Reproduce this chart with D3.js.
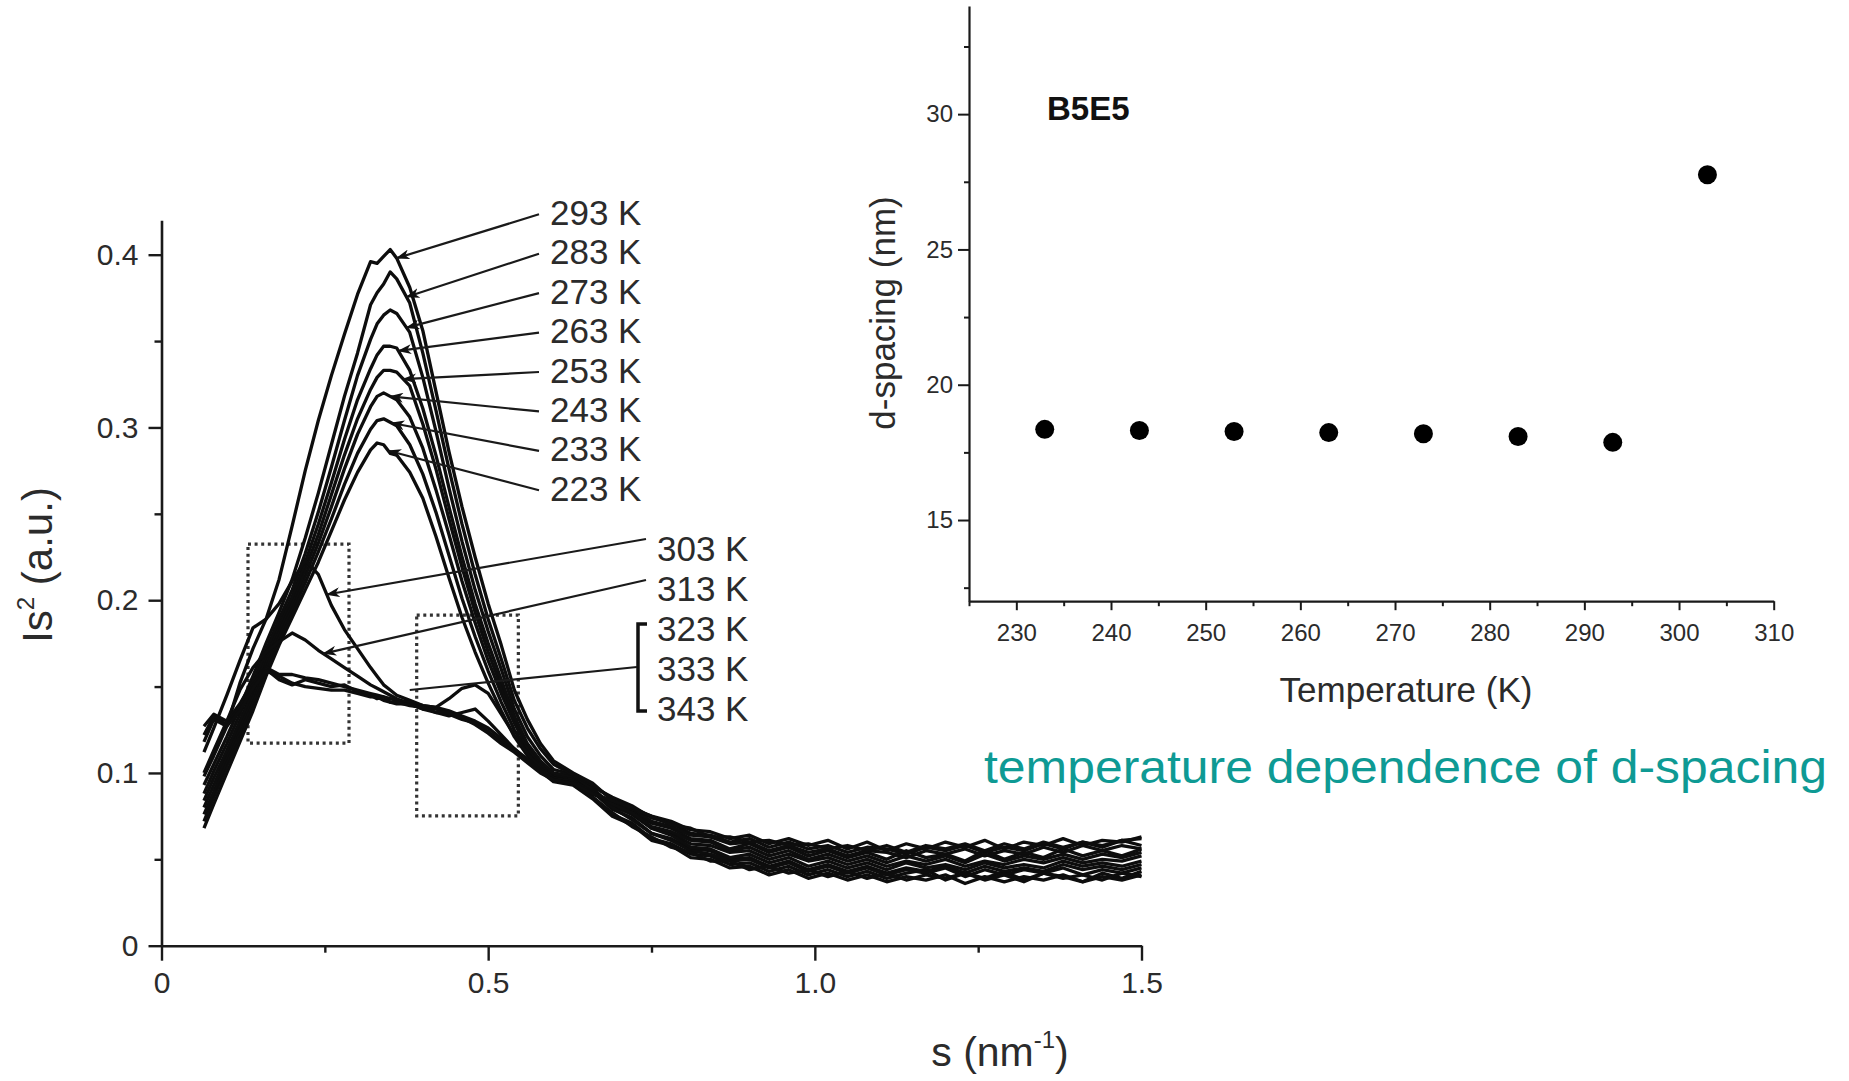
<!DOCTYPE html>
<html><head><meta charset="utf-8">
<script src="https://cdn.jsdelivr.net/npm/d3@7"></script>
<style>
html,body{margin:0;padding:0;background:#fff;}
svg{display:block;}
text{font-family:"Liberation Sans",Arial,Helvetica,sans-serif;}
</style></head><body>
<svg id="chart" width="1849" height="1081"></svg>
<script>
// Scattering vector s (nm^-1) shared by all intensity profiles
const sValues = [0.065,0.08,0.10,0.12,0.14,0.16,0.18,0.20,0.22,0.24,0.26,0.28,0.30,0.32,0.33,0.34,0.35,0.36,0.38,0.40,0.42,0.44,0.46,0.48,0.50,0.52,0.54,0.56,0.58,0.60,
  0.63,0.66,0.69,0.72,0.75,0.78,0.81,0.84,0.87,0.90,0.93,0.96,0.99,1.02,1.05,1.08,1.11,1.14,1.17,1.20,1.23,1.26,1.29,1.32,1.35,1.38,1.41,1.44,1.47,1.50];

const temperatures = [223,233,243,253,263,273,283,293,303,313,323,333,343];

// Lorentz-corrected intensity Is^2 (a.u.) for each temperature
const I223 = [0.068,0.082,0.100,0.118,0.136,0.156,0.174,0.190,0.206,0.222,0.240,0.258,0.274,0.287,0.291,0.290,0.285,0.284,0.274,0.259,0.237,0.213,0.190,0.170,0.152,0.136,0.121,0.110,0.102,0.096,
  0.094,0.086,0.076,0.071,0.062,0.059,0.053,0.052,0.047,0.048,0.043,0.046,0.041,0.044,0.040,0.043,0.039,0.042,0.044,0.038,0.042,0.039,0.043,0.038,0.042,0.040,0.037,0.042,0.039,0.043];
const I233 = [0.072,0.086,0.104,0.121,0.139,0.159,0.177,0.193,0.210,0.228,0.247,0.267,0.285,0.299,0.304,0.305,0.303,0.301,0.290,0.273,0.251,0.226,0.201,0.179,0.159,0.141,0.125,0.113,0.104,0.098,
  0.096,0.088,0.083,0.078,0.071,0.068,0.062,0.061,0.056,0.059,0.054,0.057,0.052,0.055,0.051,0.054,0.050,0.055,0.051,0.053,0.049,0.055,0.050,0.054,0.051,0.056,0.052,0.055,0.052,0.056];
const I243 = [0.076,0.089,0.107,0.124,0.142,0.162,0.180,0.196,0.214,0.233,0.254,0.276,0.296,0.312,0.318,0.320,0.318,0.316,0.306,0.288,0.264,0.238,0.211,0.187,0.165,0.146,0.129,0.115,0.106,0.099,
  0.097,0.089,0.079,0.074,0.065,0.062,0.056,0.055,0.050,0.051,0.046,0.049,0.044,0.047,0.043,0.046,0.042,0.045,0.043,0.046,0.042,0.046,0.043,0.045,0.043,0.047,0.044,0.046,0.044,0.047];
const I253 = [0.080,0.093,0.110,0.127,0.145,0.165,0.183,0.199,0.218,0.238,0.261,0.284,0.305,0.322,0.329,0.333,0.333,0.332,0.324,0.302,0.276,0.247,0.219,0.193,0.170,0.150,0.130,0.115,0.105,0.099,
  0.098,0.092,0.086,0.081,0.074,0.071,0.065,0.064,0.060,0.062,0.057,0.060,0.056,0.058,0.054,0.057,0.056,0.053,0.057,0.055,0.058,0.054,0.057,0.055,0.059,0.056,0.060,0.057,0.061,0.058];
const I263 = [0.084,0.097,0.113,0.130,0.148,0.168,0.186,0.202,0.222,0.244,0.268,0.293,0.316,0.334,0.342,0.347,0.347,0.346,0.333,0.311,0.284,0.254,0.225,0.198,0.175,0.154,0.133,0.117,0.107,0.100,
  0.098,0.091,0.081,0.076,0.068,0.065,0.059,0.058,0.054,0.055,0.050,0.053,0.049,0.051,0.047,0.050,0.046,0.049,0.047,0.050,0.046,0.049,0.047,0.050,0.048,0.051,0.048,0.050,0.049,0.052];
const I273 = [0.088,0.101,0.117,0.134,0.152,0.171,0.189,0.206,0.227,0.251,0.277,0.304,0.330,0.351,0.360,0.365,0.368,0.366,0.355,0.329,0.298,0.265,0.234,0.206,0.182,0.160,0.137,0.121,0.110,0.102,
  0.099,0.090,0.080,0.073,0.065,0.061,0.055,0.053,0.049,0.050,0.045,0.048,0.043,0.046,0.042,0.045,0.041,0.044,0.042,0.045,0.040,0.044,0.041,0.044,0.042,0.045,0.041,0.044,0.042,0.045];
const I283 = [0.093,0.105,0.121,0.138,0.156,0.175,0.193,0.212,0.236,0.262,0.290,0.318,0.343,0.371,0.378,0.383,0.390,0.386,0.372,0.343,0.310,0.276,0.244,0.215,0.189,0.166,0.142,0.126,0.114,0.105,
  0.099,0.093,0.085,0.080,0.072,0.069,0.064,0.063,0.059,0.060,0.055,0.058,0.054,0.056,0.052,0.055,0.054,0.051,0.055,0.053,0.056,0.052,0.055,0.053,0.057,0.054,0.058,0.055,0.058,0.056];
const I293 = [0.098,0.110,0.127,0.152,0.172,0.189,0.212,0.243,0.275,0.304,0.330,0.354,0.377,0.396,0.395,0.399,0.403,0.398,0.381,0.356,0.321,0.286,0.254,0.225,0.198,0.174,0.148,0.131,0.117,0.107,
  0.100,0.094,0.084,0.077,0.068,0.064,0.057,0.056,0.051,0.053,0.048,0.051,0.046,0.049,0.045,0.048,0.044,0.048,0.045,0.047,0.044,0.048,0.045,0.047,0.045,0.049,0.046,0.048,0.046,0.049];
const I303 = [0.112,0.126,0.145,0.165,0.184,0.189,0.198,0.211,0.223,0.215,0.197,0.183,0.172,0.161,0.156,0.151,0.148,0.145,0.142,0.139,0.138,0.143,0.149,0.151,0.146,0.134,0.122,0.111,0.103,0.097,
  0.094,0.088,0.083,0.079,0.075,0.072,0.067,0.066,0.062,0.064,0.059,0.062,0.058,0.061,0.056,0.060,0.055,0.059,0.056,0.060,0.057,0.061,0.056,0.060,0.058,0.062,0.058,0.061,0.060,0.063];
const I313 = [0.100,0.113,0.130,0.148,0.161,0.170,0.176,0.181,0.177,0.171,0.166,0.161,0.156,0.151,0.149,0.147,0.145,0.143,0.140,0.137,0.135,0.133,0.135,0.137,0.130,0.122,0.114,0.107,0.101,0.095,
  0.093,0.085,0.075,0.070,0.061,0.058,0.051,0.050,0.045,0.046,0.041,0.044,0.039,0.042,0.038,0.041,0.037,0.040,0.038,0.041,0.036,0.040,0.037,0.040,0.038,0.041,0.037,0.040,0.038,0.041];
const I323 = [0.127,0.134,0.130,0.140,0.153,0.161,0.157,0.157,0.155,0.154,0.152,0.150,0.148,0.146,0.145,0.144,0.143,0.142,0.141,0.139,0.138,0.136,0.133,0.130,0.126,0.120,0.114,0.108,0.102,0.097,
  0.095,0.089,0.082,0.077,0.069,0.066,0.061,0.060,0.055,0.057,0.052,0.055,0.050,0.053,0.049,0.052,0.048,0.052,0.049,0.052,0.048,0.053,0.049,0.052,0.050,0.053,0.050,0.053,0.051,0.054];
const I333 = [0.122,0.133,0.128,0.138,0.151,0.160,0.154,0.151,0.154,0.152,0.150,0.151,0.147,0.145,0.143,0.144,0.141,0.140,0.140,0.137,0.137,0.134,0.131,0.129,0.124,0.118,0.113,0.107,0.101,0.096,
  0.094,0.086,0.077,0.069,0.063,0.057,0.054,0.049,0.049,0.044,0.046,0.042,0.044,0.040,0.043,0.039,0.042,0.038,0.041,0.039,0.042,0.038,0.041,0.037,0.042,0.039,0.041,0.038,0.042,0.040];
const I343 = [0.118,0.131,0.127,0.136,0.149,0.159,0.156,0.152,0.150,0.149,0.148,0.148,0.146,0.144,0.144,0.142,0.141,0.141,0.139,0.138,0.135,0.135,0.132,0.128,0.123,0.117,0.112,0.106,0.100,0.096,
  0.094,0.088,0.084,0.080,0.075,0.070,0.068,0.063,0.063,0.060,0.061,0.058,0.059,0.056,0.058,0.055,0.058,0.054,0.058,0.056,0.059,0.055,0.059,0.056,0.060,0.057,0.060,0.058,0.061,0.062];

const profiles = [I223,I233,I243,I253,I263,I273,I283,I293,I303,I313,I323,I333,I343];

// s position at which each label's arrow meets its curve
const arrowS = {223:0.347, 233:0.352, 243:0.350, 253:0.370, 263:0.3625, 273:0.375, 283:0.375, 293:0.360, 303:0.253, 313:0.2477};
const groupArrowPoint = [0.38, 0.148];   // 323-343 K bracket target (s, Is^2)

// Highlighted regions (s range, Is^2 range)
const boxes = [
  {s0:0.1324, s1:0.287, i0:0.1173, i1:0.2325},
  {s0:0.3906, s1:0.5462, i0:0.0751, i1:0.1914}
];

const sTicks = [0, 0.5, 1.0, 1.5];
const sTickLabels = ["0", "0.5", "1.0", "1.5"];
const sMinorTicks = [0.25, 0.75, 1.25];
const iTicks = [0, 0.1, 0.2, 0.3, 0.4];
const iTickLabels = ["0", "0.1", "0.2", "0.3", "0.4"];
const iMinorTicks = [0.05, 0.15, 0.25, 0.35];

// d-spacing vs temperature
const dTemps = [233, 243, 253, 263, 273, 283, 293, 303];
const dSpacing = [18.35, 18.31, 18.27, 18.23, 18.19, 18.09, 17.87, 27.76];
const tTicks = [230, 240, 250, 260, 270, 280, 290, 300, 310];
const tMinorTicks = [225, 235, 245, 255, 265, 275, 285, 295, 305];
const dTicks = [15, 20, 25, 30];
const dMinorTicks = [12.5, 17.5, 22.5, 27.5, 32.5];

const svg = d3.select("#chart");
const ink = "#1a1a1a";
const labelInk = "#2b2b2b";

// ---------- left panel: scattering profiles ----------
const x = d3.scaleLinear().domain([0, 1.5]).range([161.5, 1141.5]);
const y = d3.scaleLinear().domain([0, 0.42]).range([945.7, 220.15]);

function styleAxis(g, fs) {
  g.select(".domain").attr("stroke", ink).attr("stroke-width", 2.6);
  g.selectAll(".tick line").attr("stroke", ink).attr("stroke-width", 2.4);
  g.selectAll(".tick text").attr("fill", labelInk).attr("font-size", fs)
    .attr("font-family", "'Liberation Sans', Arial, sans-serif");
}

const left = svg.append("g");

// minor ticks first
left.append("g").attr("transform", `translate(0,${y(0)})`)
  .call(d3.axisBottom(x).tickValues(sMinorTicks).tickSize(7).tickSizeOuter(0).tickFormat(""))
  .call(g => { styleAxis(g, 30); g.select(".domain").remove(); });
left.append("g").attr("transform", `translate(${x(0)},0)`)
  .call(d3.axisLeft(y).tickValues(iMinorTicks).tickSize(7).tickSizeOuter(0).tickFormat(""))
  .call(g => { styleAxis(g, 30); g.select(".domain").remove(); });

left.append("g").attr("transform", `translate(0,${y(0)})`)
  .call(d3.axisBottom(x).tickValues(sTicks).tickSize(15).tickSizeOuter(0).tickPadding(11)
    .tickFormat((d, i) => sTickLabels[i]))
  .call(g => styleAxis(g, 30));
left.append("g").attr("transform", `translate(${x(0)},0)`)
  .call(d3.axisLeft(y).tickValues(iTicks).tickSize(13).tickSizeOuter(0).tickPadding(10)
    .tickFormat((d, i) => iTickLabels[i]))
  .call(g => styleAxis(g, 30));

// dotted highlight boxes
left.selectAll("rect.box").data(boxes).join("rect").attr("class", "box")
  .attr("x", d => x(d.s0)).attr("y", d => y(d.i1))
  .attr("width", d => x(d.s1) - x(d.s0)).attr("height", d => y(d.i0) - y(d.i1))
  .attr("fill", "none").attr("stroke", "#333").attr("stroke-width", 3.2)
  .attr("stroke-dasharray", "3 3.6");

// curves
const line = d3.line().x((d, i) => x(sValues[i])).y(d => y(d)).curve(d3.curveLinear);
left.selectAll("path.profile").data(profiles).join("path").attr("class", "profile")
  .attr("d", line).attr("fill", "none").attr("stroke", "#0d0d0d")
  .attr("stroke-width", 3.3).attr("stroke-linejoin", "round");

// axis titles
const yTitle = left.append("text").attr("transform", "translate(52,565) rotate(-90)")
  .attr("text-anchor", "middle").attr("font-size", 42).attr("fill", labelInk);
yTitle.append("tspan").text("Is");
yTitle.append("tspan").attr("font-size", 24).attr("dy", -18).text("2");
yTitle.append("tspan").attr("dy", 18).text(" (a.u.)");

const xTitle = left.append("text").attr("x", 1000).attr("y", 1066)
  .attr("text-anchor", "middle").attr("font-size", 41).attr("fill", labelInk);
xTitle.append("tspan").text("s (nm");
xTitle.append("tspan").attr("font-size", 24).attr("dy", -18).text("-1");
xTitle.append("tspan").attr("dy", 18).text(")");

// arrows and temperature labels
const defs = svg.append("defs");
defs.append("marker").attr("id", "arrowHead").attr("viewBox", "0 0 14 10")
  .attr("refX", 13).attr("refY", 5).attr("markerWidth", 14).attr("markerHeight", 10)
  .attr("markerUnits", "userSpaceOnUse").attr("orient", "auto")
  .append("path").attr("d", "M0,0 L14,5 L0,10 L4,5 Z").attr("fill", "#111");

function valueAt(series, s) {
  const i = Math.min(Math.max(d3.bisectRight(sValues, s), 1), sValues.length - 1);
  const s0 = sValues[i - 1], s1 = sValues[i];
  const t = (s - s0) / (s1 - s0);
  return series[i - 1] + (series[i] - series[i - 1]) * t;
}

const notes = left.append("g");
const lowTemps = temperatures.slice(0, 8).slice().reverse(); // 293 ... 223 top to bottom
lowTemps.forEach((T, k) => {
  const cy = 212.3 + k * 39.43;
  const series = profiles[temperatures.indexOf(T)];
  const s = arrowS[T];
  notes.append("line").attr("x1", 539).attr("y1", cy + 2)
    .attr("x2", x(s)).attr("y2", y(valueAt(series, s)))
    .attr("stroke", "#1a1a1a").attr("stroke-width", 2.2).attr("marker-end", "url(#arrowHead)");
  notes.append("text").attr("x", 550).attr("y", cy + 12.5).attr("font-size", 35)
    .attr("fill", labelInk).text(`${T} K`);
});

const highTemps = temperatures.slice(8); // 303 ... 343
highTemps.forEach((T, k) => {
  const cy = 548 + k * 40;
  notes.append("text").attr("x", 657).attr("y", cy + 12.5).attr("font-size", 35)
    .attr("fill", labelInk).text(`${T} K`);
  if (arrowS[T] !== undefined) {
    const series = profiles[temperatures.indexOf(T)];
    const s = arrowS[T];
    notes.append("line").attr("x1", 646).attr("y1", cy - 9 + k * 1)
      .attr("x2", x(s)).attr("y2", y(valueAt(series, s)))
      .attr("stroke", "#1a1a1a").attr("stroke-width", 2.2).attr("marker-end", "url(#arrowHead)");
  }
});
// bracket grouping 323-343 K
notes.append("path").attr("d", "M647,624 L638,624 L638,711 L647,711")
  .attr("fill", "none").attr("stroke", "#111").attr("stroke-width", 3.5);
notes.append("line").attr("x1", 637).attr("y1", 667)
  .attr("x2", x(groupArrowPoint[0])).attr("y2", y(groupArrowPoint[1]))
  .attr("stroke", "#1a1a1a").attr("stroke-width", 2.2);

// ---------- right panel: d-spacing ----------
const xr = d3.scaleLinear().domain([225, 310]).range([969, 1773.7]);
const yr = d3.scaleLinear().domain([12, 34]).range([601.2, 5.9]);
const right = svg.append("g");

right.append("g").attr("transform", `translate(0,${yr(12)})`)
  .call(d3.axisBottom(xr).tickValues(tMinorTicks).tickSize(5).tickSizeOuter(0).tickFormat(""))
  .call(g => { styleAxis(g, 24); g.select(".domain").remove(); g.selectAll(".tick line").attr("stroke-width", 2); });
right.append("g").attr("transform", `translate(${xr(225)},0)`)
  .call(d3.axisLeft(yr).tickValues(dMinorTicks).tickSize(5).tickSizeOuter(0).tickFormat(""))
  .call(g => { styleAxis(g, 24); g.select(".domain").remove(); g.selectAll(".tick line").attr("stroke-width", 2); });
right.append("g").attr("transform", `translate(0,${yr(12)})`)
  .call(d3.axisBottom(xr).tickValues(tTicks).tickSize(9).tickSizeOuter(0).tickPadding(14).tickFormat(d3.format("d")))
  .call(g => { styleAxis(g, 24); g.select(".domain").attr("stroke-width", 2.2); g.selectAll(".tick line").attr("stroke-width", 2); });
right.append("g").attr("transform", `translate(${xr(225)},0)`)
  .call(d3.axisLeft(yr).tickValues(dTicks).tickSize(11).tickSizeOuter(0).tickPadding(5).tickFormat(d3.format("d")))
  .call(g => { styleAxis(g, 24); g.select(".domain").attr("stroke-width", 2.2); g.selectAll(".tick line").attr("stroke-width", 2); });

right.selectAll("circle.dpt").data(dTemps).join("circle").attr("class", "dpt")
  .attr("cx", d => xr(d)).attr("cy", (d, i) => yr(dSpacing[i])).attr("r", 9.5).attr("fill", "#000");

right.append("text").attr("x", 1047).attr("y", 120).attr("font-size", 33).attr("font-weight", "bold")
  .attr("fill", "#111").text("B5E5");
right.append("text").attr("transform", "translate(895,313) rotate(-90)").attr("text-anchor", "middle")
  .attr("font-size", 35).attr("fill", labelInk).text("d-spacing (nm)");
right.append("text").attr("x", 1406).attr("y", 702).attr("text-anchor", "middle")
  .attr("font-size", 35).attr("fill", labelInk).text("Temperature (K)");

svg.append("text").attr("x", 984).attr("y", 783)
  .attr("font-family", "'Comic Sans MS','Comic Neue','DejaVu Sans',cursive")
  .attr("font-size", 46).attr("fill", "#0e9a94")
  .attr("textLength", 843).attr("lengthAdjust", "spacingAndGlyphs")
  .text("temperature dependence of d-spacing");
</script>
</body></html>
